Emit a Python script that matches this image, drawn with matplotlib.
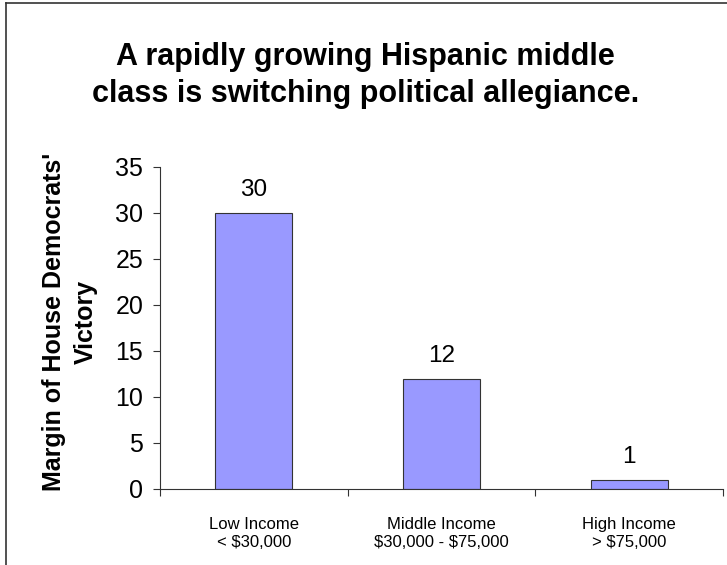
import matplotlib.pyplot as plt
from matplotlib.lines import Line2D

# data
categories = ["Low Income\n< \\$30,000", "Middle Income\n\\$30,000 - \\$75,000", "High Income\n> \\$75,000"]
margins = [30, 12, 1]
yticks = [0, 5, 10, 15, 20, 25, 30, 35]

plt.rcParams['font.family'] = ['Liberation Sans', 'DejaVu Sans']

fig = plt.figure(figsize=(7.27, 5.65), dpi=100)
ax = fig.add_axes([160 / 727, 76 / 565, 563 / 727, 322 / 565])

x = range(len(categories))
bars = ax.bar(x, margins, width=0.41, color='#9999FF', edgecolor='#333333', linewidth=0.8)

for xi, v in zip(x, margins):
    ax.text(xi, v + 1.3, str(v), ha='center', va='bottom', fontsize=17.5)

ax.set_xlim(-0.5, 2.5)
ax.set_ylim(0, 35)
ax.set_yticks(yticks)
ax.tick_params(axis='y', labelsize=18, length=5, width=0.8, color='#333333', pad=7)

# category boundaries get the tick marks, centres get the labels
ax.set_xticks([-0.5, 0.5, 1.5, 2.5])
ax.set_xticklabels([])
ax.set_xticks(list(x), minor=True)
ax.set_xticklabels(categories, minor=True, fontsize=12, linespacing=1.3)
ax.tick_params(axis='x', which='major', length=5, width=0.8, color='#333333')
ax.tick_params(axis='x', which='minor', length=0, pad=20)

for s in ['top', 'right']:
    ax.spines[s].set_visible(False)
for s in ['left', 'bottom']:
    ax.spines[s].set_color('#333333')
    ax.spines[s].set_linewidth(0.8)

ax.set_ylabel("Margin of House Democrats'\nVictory", fontsize=18, fontweight='bold',
              linespacing=1.45)
ax.yaxis.set_label_coords(-0.11, 0.52)

fig.text(0.503, 0.866, "A rapidly growing Hispanic middle\nclass is switching political allegiance.",
         ha='center', va='center', fontsize=22, fontweight='bold', linespacing=1.3)

# frame around the slide (left and top edges visible)
fig.add_artist(Line2D([6 / 727, 6 / 727], [0, 1 - 3 / 565], transform=fig.transFigure, color='#333333', lw=1.2))
fig.add_artist(Line2D([6 / 727, 1], [1 - 3 / 565, 1 - 3 / 565], transform=fig.transFigure, color='#333333', lw=1.2))

fig.savefig('out.png', dpi=100)
